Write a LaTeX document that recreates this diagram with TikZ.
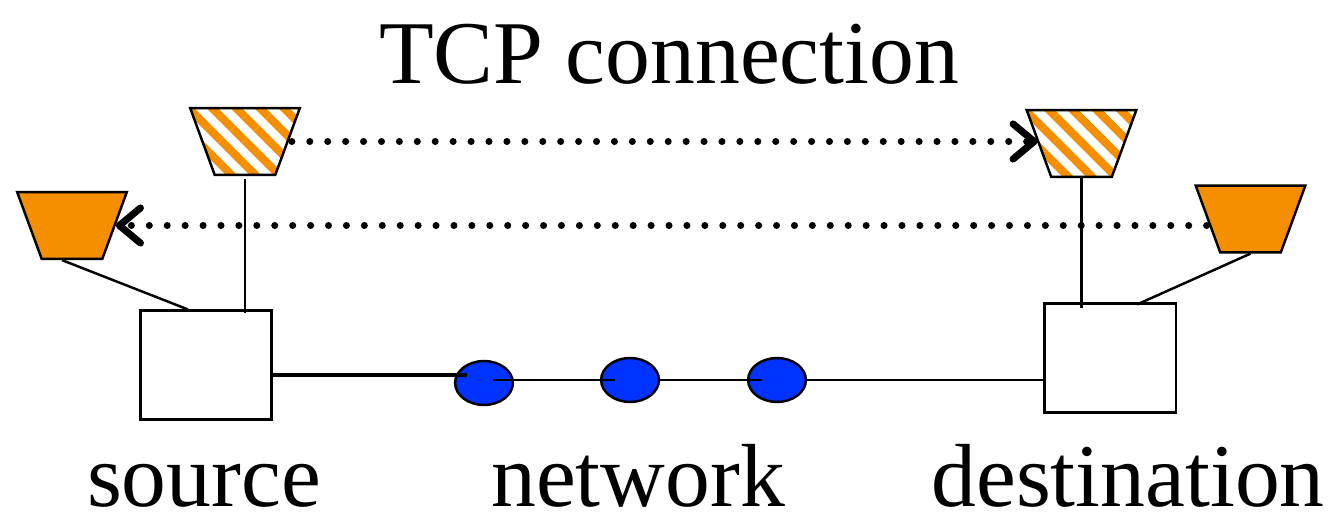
\documentclass[tikz,border=0pt]{standalone}
\usepackage{fontspec}
\setmainfont{Liberation Serif}
\usetikzlibrary{shapes.geometric,arrows.meta,patterns.meta,calc}
\definecolor{tcporange}{RGB}{246,143,0}
\definecolor{netblue}{RGB}{0,51,255}
\tikzset{
  sock/.style={trapezium, trapezium angle=68, shape border rotate=180,
    trapezium stretches=true, minimum width=62.4pt, minimum height=38pt,
    inner sep=2pt, draw, line width=1.4pt},
  datasock/.style={sock, pattern={Lines[angle=-45,distance=9.6pt,line width=4.6pt]},
    pattern color=tcporange},
  acksock/.style={sock, fill=tcporange},
  host/.style={draw, fill=white, line width=1.4pt, minimum width=74.8pt,
    minimum height=61.8pt, inner sep=0pt},
  router/.style={ellipse, draw, fill=netblue, line width=1.4pt,
    minimum width=32.9pt, minimum height=25pt, inner sep=0pt},
  link/.style={line width=1.4pt},
  flow/.style={line width=4pt, line cap=round, dash pattern=on 0pt off 10.2pt,
    -{Straight Barb[length=12pt,width=20pt,round]}},
  bigtext/.style={font=\fontsize{51}{60}\selectfont, anchor=base, inner sep=0pt}
}

\begin{document}
\begin{tikzpicture}[x=0.02cm, y=-0.02cm]
\useasboundingbox (0,0) rectangle (1334,516);

% hosts
\node[host] (src) at (206,365) {};
\node[host] (dst) at (1110,358) {};

% routers
\node[router] (r1) at (484,383) {};
\node[router] (r2) at (630,380) {};
\node[router] (r3) at (777,380) {};

% sockets
\node[datasock] (dataS) at (245,141.5) {};
\node[datasock] (dataD) at (1081.5,143.5) {};
\node[acksock] (ackS) at (72,225.5) {};
\node[acksock] (ackD) at (1250.5,219) {};

% links through the network
\draw[line width=2.8pt] ($(src.east)+(0,10)$) -- ($(r1.center)+(-17,-8)$);
\draw[link] ($(r1.center)+(9,-3)$) -- ($(r2.center)+(-15,0)$);
\draw[link] (r2.east) -- ($(r3.center)+(-15,0)$);
\draw[link] (r3.east) -- (r3.east -| dst.west);

% sockets to hosts
\draw[link] (dataS.south) -- ($(src.north -| dataS.south)+(0,4)$);
\draw[link] ($(ackS.south)+(-10,0)$) -- ($(src.north)+(-18,0)$);
\draw[link] (dataD.south) -- ($(dst.north -| dataD.south)+(0,6)$);
\draw[link] (ackD.south) -- ($(dst.north)+(27,2)$);

% end to end
\draw[flow] (dataS.east) -- (dataS.east -| dataD.west);
\draw[flow] (ackS.east -| ackD.west) -- (ackS.east);

\node[bigtext] (title) at (669,84) {TCP connection};
\node[bigtext] (srcname) at (204,506) {source};
\node[bigtext] (netname) at (638,506) {network};
\node[bigtext] (dstname) at (1128,506) {destination};
\end{tikzpicture}
\end{document}
